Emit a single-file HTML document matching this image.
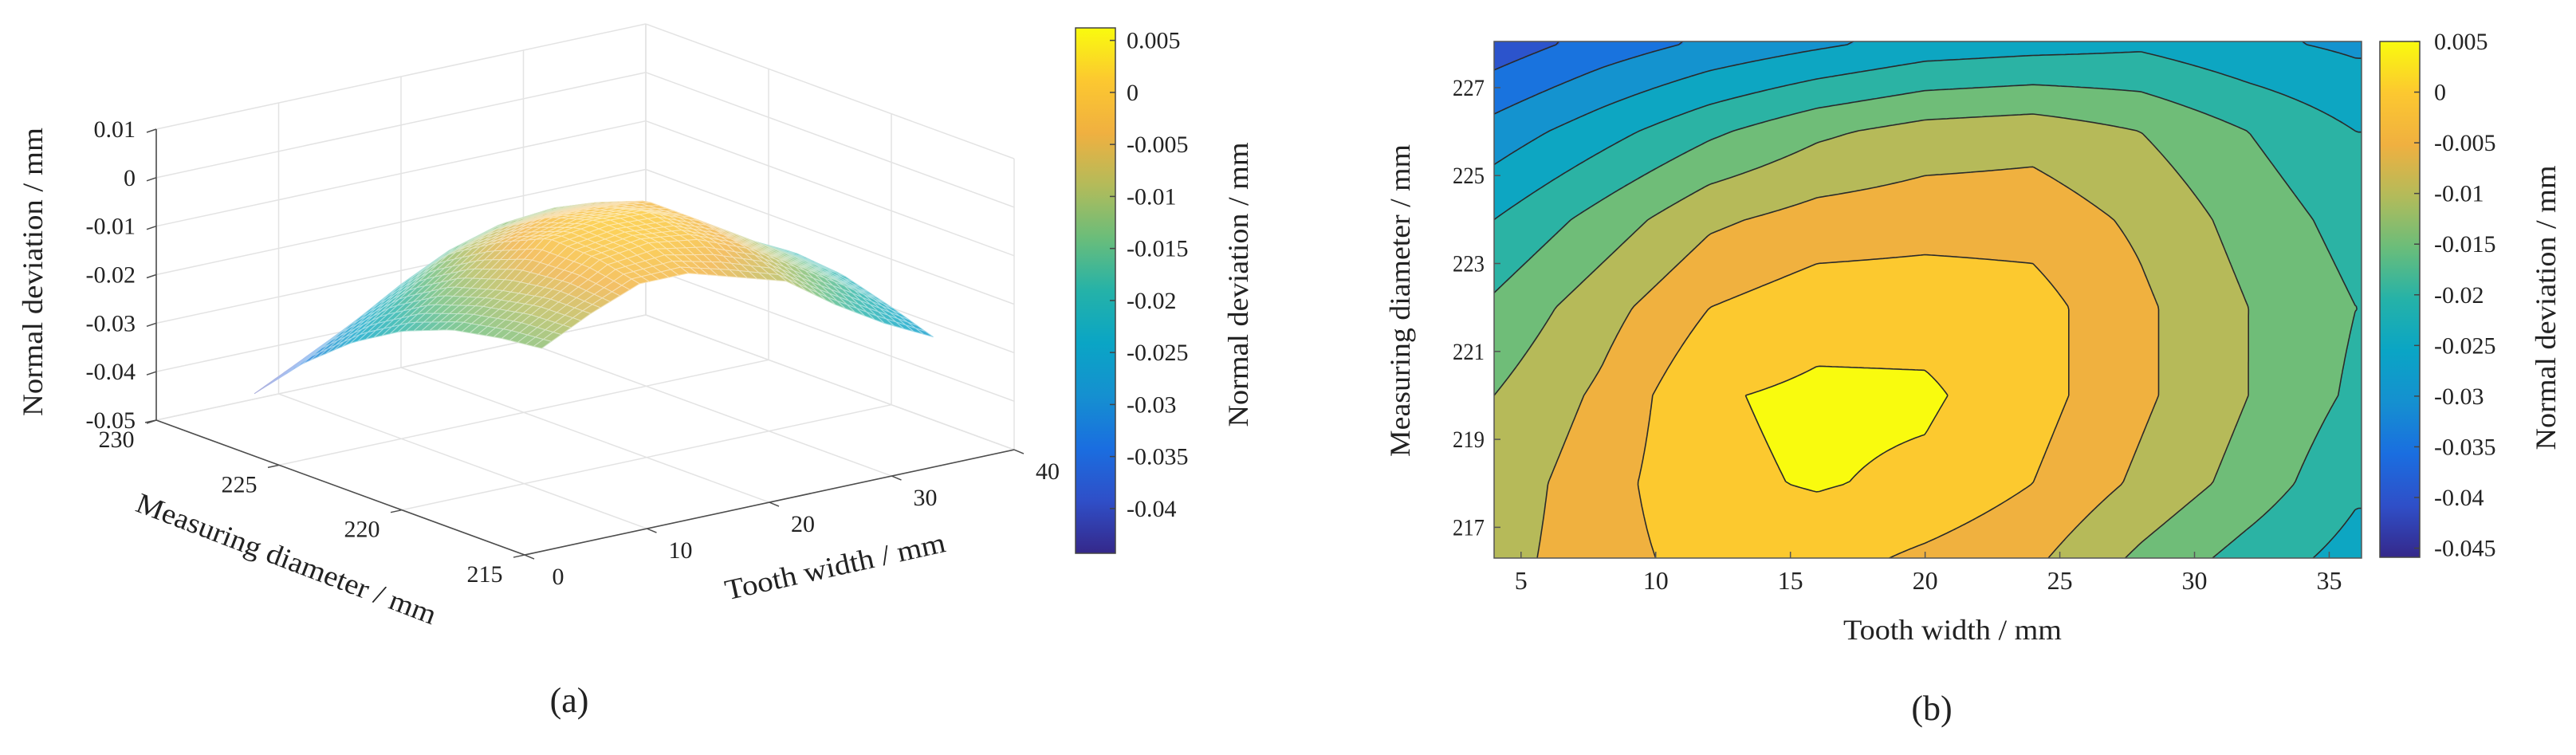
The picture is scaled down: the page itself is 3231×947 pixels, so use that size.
<!DOCTYPE html>
<html><head><meta charset="utf-8">
<style>
html,body{margin:0;padding:0;background:#fff;}
#wrap{position:relative;width:3231px;height:947px;overflow:hidden;background:#fff;}
#cnv{position:absolute;left:0;top:0;}
#svg{position:absolute;left:0;top:0;}
text{font-family:"Liberation Serif",serif;fill:#222;}
</style></head>
<body>
<div id="wrap">
<canvas id="cnv" width="3231" height="947"></canvas>
<svg id="svg" width="3231" height="947" xmlns="http://www.w3.org/2000/svg">
<defs>
<linearGradient id="parula" x1="0" y1="1" x2="0" y2="0">
<stop offset="0" stop-color="#35288a"/><stop offset="0.1" stop-color="#2f4fc8"/><stop offset="0.2" stop-color="#1a6ee0"/><stop offset="0.3" stop-color="#1590d0"/><stop offset="0.4" stop-color="#0aa5c5"/><stop offset="0.5" stop-color="#25b2a8"/><stop offset="0.6" stop-color="#6abd7a"/><stop offset="0.7" stop-color="#b3bb5a"/><stop offset="0.8" stop-color="#f0b040"/><stop offset="0.9" stop-color="#fcc830"/><stop offset="1" stop-color="#f9fb0e"/>
</linearGradient>
</defs>
<g id="left3d"></g>
<g id="right2d"></g>
<text x="714" y="893" font-size="44" text-anchor="middle">(a)</text>
<text x="2423" y="903" font-size="44" text-anchor="middle">(b)</text>
</svg>
</div>
<script>
// ---- data (shared by both panels) ----
const tVals=[4,8,12,16,20,24,28,32,36];
const dVals=[216.3,218,220,222,224,226,228];
const zRow216=[-0.012,-0.007,-0.003,-0.003,-0.006,-0.009,-0.016,-0.022,-0.027];
const zRow218=[-0.013,-0.007,-0.001,0.0004,-0.001,-0.005,-0.011,-0.017,-0.024];
const zRow220=[-0.015,-0.009,-0.0005,0.001,0.0008,-0.003,-0.009,-0.015,-0.021];
const zRow222=[-0.019,-0.012,-0.005,-0.002,-0.002,-0.003,-0.009,-0.015,-0.020];
const zRow224=[-0.025,-0.018,-0.011,-0.008,-0.007,-0.007,-0.011,-0.017,-0.022];
const zRow226=[-0.033,-0.027,-0.021,-0.016,-0.013,-0.012,-0.015,-0.020,-0.025];
const zRow228=[-0.043,-0.038,-0.034,-0.031,-0.028,-0.027,-0.026,-0.029,-0.031];
const zGrid=[zRow216,zRow218,zRow220,zRow222,zRow224,zRow226,zRow228];
const zTicks3d=[0.01,0,-0.01,-0.02,-0.03,-0.04,-0.05];
const zTickLabels3d=["0.01","0","-0.01","-0.02","-0.03","-0.04","-0.05"];
const dTicks3d=[230,225,220,215];
const tTicks3d=[0,10,20,30,40];
const cbTicksL=[0.005,0,-0.005,-0.01,-0.015,-0.02,-0.025,-0.03,-0.035,-0.04];
const cbLabelsL=["0.005","0","-0.005","-0.01","-0.015","-0.02","-0.025","-0.03","-0.035","-0.04"];
const cbTicksR=[0.005,0,-0.005,-0.01,-0.015,-0.02,-0.025,-0.03,-0.035,-0.04,-0.045];
const cbLabelsR=["0.005","0","-0.005","-0.01","-0.015","-0.02","-0.025","-0.03","-0.035","-0.04","-0.045"];
const xTicks2d=[5,10,15,20,25,30,35];
const yTicks2d=[217,219,221,223,225,227];
const levels2d=[-0.045,-0.04,-0.035,-0.03,-0.025,-0.02,-0.015,-0.01,-0.005,0];

const NS="http://www.w3.org/2000/svg";
function mk(tag,attrs,parent){const e=document.createElementNS(NS,tag);for(const k in attrs)e.setAttribute(k,attrs[k]);if(parent)parent.appendChild(e);return e;}

const pStops=[[53,42,138],[47,79,200],[26,110,224],[21,144,208],[10,165,197],[37,178,168],[106,189,122],[179,187,90],[240,176,64],[252,200,48],[249,251,14]];
function parula(f){f=Math.max(0,Math.min(1,f));const s=f*10;const i=Math.min(9,Math.floor(s));const r=s-i;const a=pStops[i],b=pStops[i+1];return [a[0]+(b[0]-a[0])*r,a[1]+(b[1]-a[1])*r,a[2]+(b[2]-a[2])*r];}
function rgb(c){return "rgb("+c.map(v=>Math.round(v)).join(",")+")";}

function zAt(t,d){
  t=Math.max(tVals[0],Math.min(tVals[tVals.length-1],t));
  d=Math.max(dVals[0],Math.min(dVals[dVals.length-1],d));
  let i=0;while(i<tVals.length-2&&t>tVals[i+1])i++;
  let j=0;while(j<dVals.length-2&&d>dVals[j+1])j++;
  const u=(t-tVals[i])/(tVals[i+1]-tVals[i]);const v=(d-dVals[j])/(dVals[j+1]-dVals[j]);
  const a=zGrid[j][i],b=zGrid[j][i+1],c=zGrid[j+1][i],e=zGrid[j+1][i+1];
  return a*(1-u)*(1-v)+b*u*(1-v)+c*(1-u)*v+e*u*v;
}

// ================= LEFT: 3D surface =================
const L=document.getElementById('left3d');
function P(t,d,z){return [196+t*15.35+(230-d)*30.8, 527-t*3.3+(230-d)*11.27-(z+0.05)*6083];}
function line(a,b,stroke,w,name){const l=mk('line',{x1:a[0],y1:a[1],x2:b[0],y2:b[1],stroke:stroke,'stroke-width':w},L);

return l;}
const GRID="#e3e3e3";
tTicks3d.forEach(t=>{line(P(t,230,-0.05),P(t,215,-0.05),GRID,1.5,'floor-grid-line');});
dTicks3d.forEach(d=>{line(P(0,d,-0.05),P(40,d,-0.05),GRID,1.5,'floor-grid-line');});
tTicks3d.forEach(t=>{line(P(t,230,-0.05),P(t,230,0.01),GRID,1.5,'back-wall-grid-line');});
zTicks3d.forEach(z=>{line(P(0,230,z),P(40,230,z),GRID,1.5,'back-wall-grid-line');});
dTicks3d.forEach(d=>{line(P(40,d,-0.05),P(40,d,0.01),GRID,1.5,'side-wall-grid-line');});
zTicks3d.forEach(z=>{line(P(40,230,z),P(40,215,z),GRID,1.5,'side-wall-grid-line');});
const AX="#4d4d4d";
line(P(0,230,-0.05),P(0,230,0.01),AX,1.6,'z-axis-line');
line(P(0,230,-0.05),P(0,215,-0.05),AX,1.6,'diameter-axis-line');
line(P(0,215,-0.05),P(40,215,-0.05),AX,1.6,'tooth-width-axis-line');
zTicks3d.forEach((z,k)=>{const p=P(0,230,z);line(p,[p[0]-12,p[1]+4],AX,1.5,'z-tick');
 const tx=mk('text',{x:p[0]-26,y:p[1]+10,'font-size':30,'text-anchor':'end'},L);tx.textContent=zTickLabels3d[k];
 
 });
dTicks3d.forEach(d=>{const p=P(0,d,-0.05);line(p,[p[0]-14,p[1]+3],AX,1.5,'diameter-tick');
 const tx=mk('text',{x:p[0]-50,y:p[1]+34,'font-size':30,'text-anchor':'middle'},L);tx.textContent=String(d);
 
 });
tTicks3d.forEach(t=>{const p=P(t,215,-0.05);line(p,[p[0]+12,p[1]+5],AX,1.5,'tooth-width-tick');
 const tx=mk('text',{x:p[0]+42,y:p[1]+37,'font-size':30,'text-anchor':'middle'},L);tx.textContent=String(t);
 
 });
const cminL=-0.0443,cmaxL=0.0062;
const polys=[];
const nt=40,nd=36;
for(let i=0;i<nt;i++)for(let j=0;j<nd;j++){
  const t0=4+32*i/nt,t1=4+32*(i+1)/nt;
  const d0=216.3+11.7*j/nd,d1=216.3+11.7*(j+1)/nd;
  const z00=zAt(t0,d0),z10=zAt(t1,d0),z11=zAt(t1,d1),z01=zAt(t0,d1);
  const zm=(z00+z10+z11+z01)/4;
  const pts=[P(t0,d0,z00),P(t1,d0,z10),P(t1,d1,z11),P(t0,d1,z01)];
  const depth=-((t0+t1)/2)*3.3+(230-(d0+d1)/2)*11.27;
  polys.push({pts,zm,depth});
}
polys.sort((a,b)=>a.depth-b.depth);
const SG=mk('g',{},L);


polys.forEach(p=>{const c=parula((p.zm-cminL)/(cmaxL-cminL));
 const fill=c.map(v=>v+(255-v)*0.2);const st=c.map(v=>v+(255-v)*0.6);
 const pg=mk('polygon',{points:p.pts.map(q=>q[0].toFixed(1)+","+q[1].toFixed(1)).join(" "),fill:rgb(fill),stroke:rgb(st),'stroke-width':1},SG);
 
 });
(function(){
 let t=mk('text',{x:0,y:0,'font-size':36,'text-anchor':'middle',textLength:362,lengthAdjust:'spacingAndGlyphs',transform:'translate(53,341) rotate(-90)'},L);t.textContent='Normal deviation / mm';
 
 t=mk('text',{x:0,y:0,'font-size':36,'text-anchor':'middle',textLength:400,lengthAdjust:'spacingAndGlyphs',transform:'translate(355,712) rotate(21)'},L);t.textContent='Measuring diameter / mm';
 
 t=mk('text',{x:0,y:0,'font-size':36,'text-anchor':'middle',textLength:282,lengthAdjust:'spacingAndGlyphs',transform:'translate(1050,722) rotate(-12.5)'},L);t.textContent='Tooth width / mm';
 
})();
(function(){
 const x0=1349,x1=1399,y0=35,y1=694;
 const r=mk('rect',{x:x0,y:y0,width:x1-x0,height:y1-y0,fill:'url(#parula)',stroke:'#444','stroke-width':1.5},L);
 
 cbTicksL.forEach((v,k)=>{const y=y1-(v-cminL)/(cmaxL-cminL)*(y1-y0);
  line([x1-7,y],[x1,y],'#444',1.5,'colorbar-tick');
  const tx=mk('text',{x:1413,y:y+10,'font-size':30},L);tx.textContent=cbLabelsL[k];
  });
 const t=mk('text',{x:0,y:0,'font-size':36,'text-anchor':'middle',textLength:357,lengthAdjust:'spacingAndGlyphs',transform:'translate(1565,357) rotate(-90)'},L);t.textContent='Normal deviation / mm';
 
})();

// ================= RIGHT: contour =================
const R=document.getElementById('right2d');
const PX0=1874,PX1=2962,PY0=52,PY1=700;
const tMin=4,tMax=36.2,dMin=216.3,dMax=228.05;
function sx(t){return PX0+(t-tMin)/(tMax-tMin)*(PX1-PX0);}
function sy(d){return PY1-(d-dMin)/(dMax-dMin)*(PY1-PY0);}
const cminR=-0.0459,cmaxR=0.005;
function bandColor(v){let k=0;for(let i=0;i<levels2d.length;i++)if(v>=levels2d[i])k=i;
 const lo=v<levels2d[0]?levels2d[0]-0.005:levels2d[k];return parula((lo+0.005-cminR)/(cmaxR-cminR));}
(function(){
 const ctx=document.getElementById('cnv').getContext('2d');
 const W=PX1-PX0,H=PY1-PY0;const img=ctx.createImageData(W,H);
 for(let y=0;y<H;y++){const d=dMax-(y/H)*(dMax-dMin);
  for(let x=0;x<W;x++){const t=tMin+(x/W)*(tMax-tMin);const c=bandColor(zAt(t,d));const o=(y*W+x)*4;
   img.data[o]=c[0];img.data[o+1]=c[1];img.data[o+2]=c[2];img.data[o+3]=255;}}
 ctx.putImageData(img,PX0,PY0);
})();
(function(){
 const step=4;const nx=Math.ceil((PX1-PX0)/step),ny=Math.ceil((PY1-PY0)/step);
 const val=[];for(let j=0;j<=ny;j++){val.push([]);for(let i=0;i<=nx;i++){const px=Math.min(PX1,PX0+i*step),py=Math.min(PY1,PY0+j*step);
  const t=tMin+(px-PX0)/(PX1-PX0)*(tMax-tMin);const d=dMax-(py-PY0)/(PY1-PY0)*(dMax-dMin);val[j].push(zAt(t,d));}}
 levels2d.slice(1).forEach(lv=>{let path="";
  for(let j=0;j<ny;j++)for(let i=0;i<nx;i++){
   const x0=PX0+i*step,y0=PY0+j*step,x1=Math.min(PX1,x0+step),y1=Math.min(PY1,y0+step);
   const a=val[j][i],b=val[j][i+1],c=val[j+1][i+1],e=val[j+1][i];
   const pts=[];
   function cr(v1,v2,p1,p2){if((v1<lv)!==(v2<lv)){const f=(lv-v1)/(v2-v1);pts.push([p1[0]+(p2[0]-p1[0])*f,p1[1]+(p2[1]-p1[1])*f]);}}
   cr(a,b,[x0,y0],[x1,y0]);cr(b,c,[x1,y0],[x1,y1]);cr(c,e,[x1,y1],[x0,y1]);cr(e,a,[x0,y1],[x0,y0]);
   for(let k=0;k+1<pts.length;k+=2)path+="M"+pts[k][0].toFixed(1)+" "+pts[k][1].toFixed(1)+"L"+pts[k+1][0].toFixed(1)+" "+pts[k+1][1].toFixed(1);
  }
  const p=mk('path',{d:path,stroke:'#2a2a2a','stroke-width':1.6,fill:'none'},R);
  
  
 });
})();
(function(){
 const fr=mk('rect',{x:PX0,y:PY0,width:PX1-PX0,height:PY1-PY0,fill:'none',stroke:'#555','stroke-width':1.5},R);
 
 xTicks2d.forEach(t=>{const x=sx(t);
  const l=mk('line',{x1:x,y1:PY1,x2:x,y2:PY1-8,stroke:'#555','stroke-width':1.5},R);
  
  const tx=mk('text',{x:x,y:739,'font-size':32,'text-anchor':'middle'},R);tx.textContent=String(t);
  });
 yTicks2d.forEach(d=>{const y=sy(d);
  const l=mk('line',{x1:PX0,y1:y,x2:PX0+8,y2:y,stroke:'#555','stroke-width':1.5},R);
  
  const tx=mk('text',{x:1862,y:y+10,'font-size':30,'text-anchor':'end',textLength:40,lengthAdjust:'spacingAndGlyphs'},R);tx.textContent=String(d);
  });
 let t=mk('text',{x:2449,y:802,'font-size':36,'text-anchor':'middle',textLength:274,lengthAdjust:'spacingAndGlyphs'},R);t.textContent='Tooth width / mm';
 
 t=mk('text',{x:0,y:0,'font-size':36,'text-anchor':'middle',textLength:392,lengthAdjust:'spacingAndGlyphs',transform:'translate(1768,377) rotate(-90)'},R);t.textContent='Measuring diameter / mm';
 
 const x0=2985,x1=3035,y0=52,y1=699;
 const r=mk('rect',{x:x0,y:y0,width:x1-x0,height:y1-y0,fill:'url(#parula)',stroke:'#444','stroke-width':1.5},R);
 
 cbTicksR.forEach((v,k)=>{const y=y1-(v-cminR)/(cmaxR-cminR)*(y1-y0);
  const l=mk('line',{x1:x1-7,y1:y,x2:x1,y2:y,stroke:'#444','stroke-width':1.5},R);
  
  const tx=mk('text',{x:3053,y:y+10,'font-size':30},R);tx.textContent=cbLabelsR[k];
  });
 t=mk('text',{x:0,y:0,'font-size':36,'text-anchor':'middle',textLength:357,lengthAdjust:'spacingAndGlyphs',transform:'translate(3205,386) rotate(-90)'},R);t.textContent='Normal deviation / mm';
 
})();
</script>
</body></html>
